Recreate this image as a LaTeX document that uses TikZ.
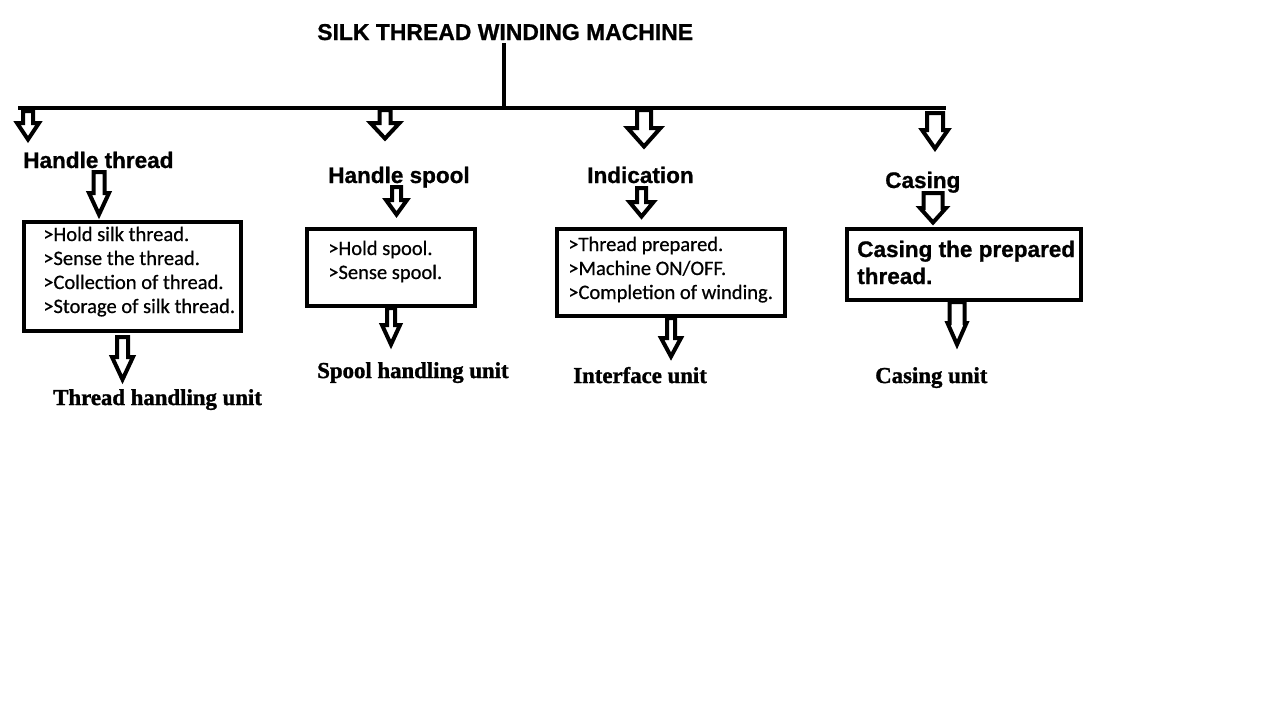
\documentclass[tikz,border=0pt]{standalone}
\usepackage{fontspec}
\setmainfont{Liberation Sans}[BoldFeatures={FakeBold=0.8}]
\newfontfamily\listfont{Carlito}[FakeBold=0.6]
\newfontfamily\unitfont{Liberation Serif}[BoldFeatures={FakeBold=1.4}]
\usepackage{tikz}
\usetikzlibrary{positioning}

\tikzset{
    heading/.style = {anchor = base west, inner sep = 0pt, font = \bfseries\fontsize{16.9}{20}\selectfont},
    listtext/.style = {anchor = base west, inner sep = 0pt, align = left, font = \listfont\fontsize{15.4}{18}\selectfont},
    unitlabel/.style = {anchor = base west, inner sep = 0pt, font = \unitfont\bfseries\fontsize{17.1}{20}\selectfont},
    box/.style = {draw, line width = 3.4pt, inner sep = 0pt},
    bar/.style = {line width = 3pt},
    arrowline/.style = {draw, fill = white, line width = 3pt, line join = miter}
}

% x, top, head start, tip, half shaft, half head
\newcommand{\blockarrow}[6]{%
    \draw[arrowline] (#1-#5+2, #2) -- (#1+#5-2, #2) -- (#1+#5-2, #3)
        -- (#1+#6-2, #3) -- (#1, #4-3.5) -- (#1-#6+2, #3) -- (#1-#5+2, #3) -- cycle;}

\begin{document}
\begin{tikzpicture}[x = 0.75pt, y = -0.75pt]
        \useasboundingbox (0, 0) rectangle (1287, 701);

        \node[heading, font = \bfseries\fontsize{17.2}{20}\selectfont] (title) at (317, 40) {SILK THREAD WINDING MACHINE};
        \coordinate (stem) at (504, 43);
        \coordinate (join) at (504, 108);
        \coordinate (barleft) at (18, 108);
        \coordinate (barright) at (946, 108);
        \draw[bar] (stem) -- (join);
        \draw[bar] (barleft) -- (barright);

        % top arrows
        \blockarrow{28}{111}{123}{143}{7}{13}
        \blockarrow{385}{110}{123}{142}{7.5}{16.5}
        \blockarrow{644}{110}{128}{150}{9}{18.5}
        \blockarrow{935}{113}{130}{152}{10}{15}

        % headings
        \node[heading] (hthread) at (23, 168) {Handle thread};
        \node[heading] (hspool) at (328, 183) {Handle spool};
        \node[heading] (indic) at (587, 183) {Indication};
        \node[heading] (casing) at (885, 188) {Casing};

        \blockarrow{99}{172}{193}{218}{7.5}{12}
        \blockarrow{396.5}{187}{200}{218}{6.5}{12.5}
        \blockarrow{641.5}{188}{202}{220}{6.5}{14}
        \blockarrow{933}{193}{208}{226}{11.5}{15}

        % boxes
        \node[box, minimum width = 0.75*217pt, minimum height = 0.75*109pt] (box1) at (132.5, 276.5) {};
        \node[box, minimum width = 0.75*168pt, minimum height = 0.75*77pt] (box2) at (391, 267.5) {};
        \node[box, minimum width = 0.75*228pt, minimum height = 0.75*87pt] (box3) at (671, 272.5) {};
        \node[box, minimum width = 0.75*234pt, minimum height = 0.75*71pt] (box4) at (964, 264.5) {};

        % lists, placed by the baseline of their last line
        \node[listtext] (list1) at (43, 313) {>Hold silk thread.\\>Sense the thread.\\>Collection of thread.\\>Storage of silk thread.};
        \node[listtext] (list2) at (328, 279) {>Hold spool.\\>Sense spool.};
        \node[listtext] (list3) at (568, 299) {>Thread prepared.\\>Machine ON/OFF.\\>Completion of winding.};
        \node[heading, align = left, font = \bfseries\fontsize{16.9}{20.25}\selectfont] (list4) at (857, 284) {Casing the prepared\\thread.};

        % bottom arrows
        \blockarrow{122.5}{337}{357}{383}{7.5}{12.5}
        \blockarrow{391}{308}{325}{348}{6}{11}
        \blockarrow{671}{318}{338}{360}{6}{12}
        \blockarrow{957}{302}{323}{348}{9.5}{11.5}

        % units
        \node[unitlabel] (unit1) at (53, 405) {Thread handling unit};
        \node[unitlabel] (unit2) at (317, 378) {Spool handling unit};
        \node[unitlabel] (unit3) at (573, 383) {Interface unit};
        \node[unitlabel] (unit4) at (875, 383) {Casing unit};
\end{tikzpicture}
\end{document}
